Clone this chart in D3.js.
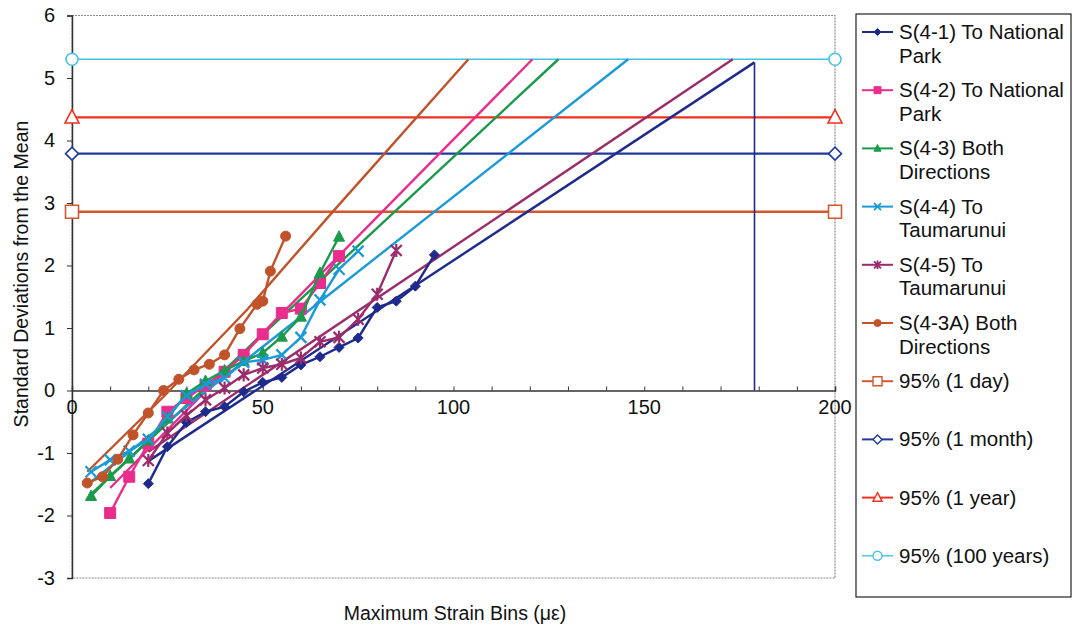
<!DOCTYPE html>
<html><head><meta charset="utf-8">
<script src="https://cdn.jsdelivr.net/npm/d3@7"></script>
<style>
html,body{margin:0;padding:0;background:#fff;}
svg{display:block;font-family:"Liberation Sans",Arial,sans-serif;}
</style></head>
<body>
<svg id="chart" width="1073" height="630"></svg>
<script>
// ---------- data ----------
const seriesNames = ["S(4-1) To National Park","S(4-2) To National Park","S(4-3) Both Directions","S(4-4) To Taumarunui","S(4-5) To Taumarunui","S(4-3A) Both Directions"];
const x41 = [20,25,30,35,40,45,50,55,60,65,70,75,80,85,90,95];
const y41 = [-1.49,-0.9,-0.51,-0.34,-0.26,-0.02,0.13,0.21,0.41,0.54,0.69,0.84,1.33,1.43,1.67,2.17];
const x42 = [10,15,20,25,30,35,40,45,50,55,60,65,70];
const y42 = [-1.96,-1.38,-0.85,-0.34,-0.12,0.08,0.3,0.57,0.9,1.24,1.31,1.72,2.15];
const x43 = [5,10,15,20,25,30,35,40,45,50,55,60,65,70];
const y43 = [-1.69,-1.37,-1.09,-0.8,-0.45,-0.05,0.15,0.32,0.47,0.6,0.86,1.18,1.88,2.46];
const x44 = [5,10,15,20,25,30,35,40,45,50,55,60,65,70,75];
const y44 = [-1.3,-1.11,-0.97,-0.78,-0.42,-0.08,0.1,0.2,0.45,0.49,0.57,0.85,1.45,1.94,2.23];
const x45 = [20,25,30,35,40,45,50,55,60,65,70,75,80,85];
const y45 = [-1.12,-0.68,-0.4,-0.15,0.04,0.25,0.36,0.42,0.52,0.78,0.85,1.14,1.54,2.24];
const x43A = [4,8,12,16,20,24,28,32,36,40,44,48.5,50,52,56];
const y43A = [-1.48,-1.38,-1.1,-0.71,-0.36,0.0,0.18,0.33,0.42,0.57,0.99,1.38,1.43,1.91,2.47];
// trend lines
const trend41 = [[20,-1.13],[178.9,5.25]];
const trend42 = [[10,-1.56],[120.7,5.3]];
const trend43 = [[5,-1.66],[127.5,5.3]];
const trend44 = [[5,-1.46],[145.8,5.3]];
const trend45 = [[20,-0.98],[173.2,5.3]];
const trend43A = [[4,-1.3],[24,-0.1],[46,1.3],[68.5,2.87],[103.9,5.3]];
const dropLine = [[178.9,5.25],[178.9,0]];
// 95% limits
const limitNames = ["95% (1 day)","95% (1 month)","95% (1 year)","95% (100 years)"];
const limitValues = [2.86, 3.79, 4.37, 5.3];
const limitX = [0, 200];
// axis ticks
const yTicks = [-3,-2,-1,0,1,2,3,4,5,6];
const xLabelTicks = [0,50,100,150,200];
const xMinorTicks = [10,20,30,40,60,70,80,90,110,120,130,140,160,170,180,190];

// ---------- layout ----------
const svg = d3.select("#chart");
const x = d3.scaleLinear().domain([0,200]).range([72,835]);
const y = d3.scaleLinear().domain([-3,6]).range([578,15.5]);
const FONT = 20;

const colors = ["#1f2b8c","#ea2c8c","#1b9a4c","#1a9ad6","#9b2c6c","#c1532b"];
const limitColors = ["#d4582f","#1f3a9c","#f0301e","#45c4df"];

// plot border (dotted grey top/right/bottom)
svg.append("rect").attr("x",x(0)).attr("y",y(6)).attr("width",x(200)-x(0)).attr("height",y(-3)-y(6))
  .attr("fill","none").attr("stroke","#8a8a8a").attr("stroke-width",1.2).attr("stroke-dasharray","2,1");

// y axis
const yAxis = svg.append("g").attr("transform",`translate(${x(0)},0)`)
  .call(d3.axisLeft(y).tickValues(yTicks).tickSize(5).tickPadding(12).tickFormat(d=>String(d)));
yAxis.select(".domain").attr("stroke","#333").attr("stroke-width",1.5);
yAxis.selectAll(".tick line").attr("stroke","#333");
yAxis.selectAll("text").attr("font-size",FONT).attr("fill","#111").style("font-family","Liberation Sans, Arial");

// x axis at y=0
const xAxis = svg.append("g").attr("transform",`translate(0,${y(0)})`)
  .call(d3.axisTop(x).tickValues(xLabelTicks.concat(xMinorTicks)).tickSize(4).tickFormat(""));
xAxis.select(".domain").attr("stroke","#333").attr("stroke-width",1.5);
xAxis.selectAll(".tick line").attr("stroke","#333");
svg.append("g").selectAll("text").data(xLabelTicks).join("text")
  .attr("x",d=>x(d)).attr("y",y(0)+23).attr("text-anchor","middle")
  .attr("font-size",FONT).attr("fill","#111").text(d=>d);

// axis titles
svg.append("text").attr("transform",`translate(28,274) rotate(-90)`)
  .attr("text-anchor","middle").attr("font-size",FONT-0.5).attr("fill","#111")
  .text("Standard Deviations from the Mean");
svg.append("text").attr("x",455).attr("y",620).attr("text-anchor","middle")
  .attr("font-size",FONT-0.5).attr("fill","#111").text("Maximum Strain Bins (\u03BC\u03B5)");

const line = d3.line().x(d=>x(d[0])).y(d=>y(d[1]));

// limit lines
limitValues.forEach((v,i)=>{
  const pts = limitX.map(xx=>[xx,v]);
  svg.append("path").attr("d",line(pts)).attr("fill","none")
    .attr("stroke",limitColors[i]).attr("stroke-width", i===3?1.6:2.4);
});

// trend lines
const trends = [trend41,trend42,trend43,trend44,trend45,trend43A];
trends.forEach((t,i)=>{
  svg.append("path").attr("d",line(t)).attr("fill","none")
    .attr("stroke",colors[i]).attr("stroke-width",2.4);
});
svg.append("path").attr("d",line(dropLine)).attr("fill","none").attr("stroke",colors[0]).attr("stroke-width",1.6);

// data series
const xs = [x41,x42,x43,x44,x45,x43A];
const ys = [y41,y42,y43,y44,y45,y43A];
const shapes = ["diamond","square","triangle","x","star","circle"];

function markerPath(shape, s){
  switch(shape){
    case "diamond": return `M0,${-s}L${s},0L0,${s}L${-s},0Z`;
    case "square": return `M${-s},${-s}H${s}V${s}H${-s}Z`;
    case "triangle": return `M0,${-s*1.1}L${s},${s*0.8}L${-s},${s*0.8}Z`;
    case "x": return `M${-s},${-s}L${s},${s}M${-s},${s}L${s},${-s}`;
    case "star": return `M${-s},${-s}L${s},${s}M${-s},${s}L${s},${-s}M0,${-s*1.2}V${s*1.2}`;
    case "circle": return d3.symbol(d3.symbolCircle, Math.PI*s*s)();
  }
}
const markerSize = [5,5.5,5.5,5.5,5.5,5];

xs.forEach((xa,i)=>{
  const pts = xa.map((xx,j)=>[xx, ys[i][j]]);
  svg.append("path").attr("d",line(pts)).attr("fill","none")
    .attr("stroke",colors[i]).attr("stroke-width",2.4);
  const g = svg.append("g");
  g.selectAll("path").data(pts).join("path")
    .attr("transform",d=>`translate(${x(d[0])},${y(d[1])})`)
    .attr("d",markerPath(shapes[i], markerSize[i]))
    .attr("fill", (shapes[i]==="x"||shapes[i]==="star") ? "none" : colors[i])
    .attr("stroke",colors[i]).attr("stroke-width",(shapes[i]==="x"||shapes[i]==="star")?2.2:1);
});

// limit markers (hollow)
const limitShapes = ["square","diamond","triangle","circle"];
const limitMarkerSize = [6.5,6.5,7,6];
limitValues.forEach((v,i)=>{
  svg.append("g").selectAll("path").data(limitX).join("path")
    .attr("transform",d=>`translate(${x(d)},${y(v)})`)
    .attr("d",markerPath(limitShapes[i],limitMarkerSize[i]))
    .attr("fill","#fff").attr("stroke",limitColors[i]).attr("stroke-width",1.6);
});

// ---------- legend ----------
svg.append("rect").attr("x",856).attr("y",14).attr("width",215).attr("height",583)
  .attr("fill","#fff").attr("stroke","#222").attr("stroke-width",1.2);
const legendRows = [
  {lines:["S(4-1) To National","Park"], color:colors[0], shape:"diamond", hollow:false},
  {lines:["S(4-2) To National","Park"], color:colors[1], shape:"square", hollow:false},
  {lines:["S(4-3) Both","Directions"], color:colors[2], shape:"triangle", hollow:false},
  {lines:["S(4-4) To","Taumarunui"], color:colors[3], shape:"x", hollow:false},
  {lines:["S(4-5) To","Taumarunui"], color:colors[4], shape:"star", hollow:false},
  {lines:["S(4-3A) Both","Directions"], color:colors[5], shape:"circle", hollow:false},
  {lines:[limitNames[0]], color:limitColors[0], shape:"square", hollow:true},
  {lines:[limitNames[1]], color:limitColors[1], shape:"diamond", hollow:true},
  {lines:[limitNames[2]], color:limitColors[2], shape:"triangle", hollow:true},
  {lines:[limitNames[3]], color:limitColors[3], shape:"circle", hollow:true}
];
legendRows.forEach((r,i)=>{
  const cy = 32 + i*58.2;
  const g = svg.append("g");
  g.append("line").attr("x1",862).attr("x2",893).attr("y1",cy).attr("y2",cy)
    .attr("stroke",r.color).attr("stroke-width", i===9?1.4:2);
  const open = r.shape==="x"||r.shape==="star";
  g.append("path").attr("transform",`translate(877.5,${cy})`)
    .attr("d",markerPath(r.shape, r.hollow?4.5:3.5))
    .attr("fill", r.hollow ? "#fff" : (open?"none":r.color))
    .attr("stroke",r.color).attr("stroke-width", r.hollow?1.4:(open?1.8:1));
  r.lines.forEach((t,k)=>{
    g.append("text").attr("x",899).attr("y",cy+7+k*23.5)
      .attr("font-size",FONT+0.5).attr("fill","#111").text(t);
  });
});
</script>
</body></html>
